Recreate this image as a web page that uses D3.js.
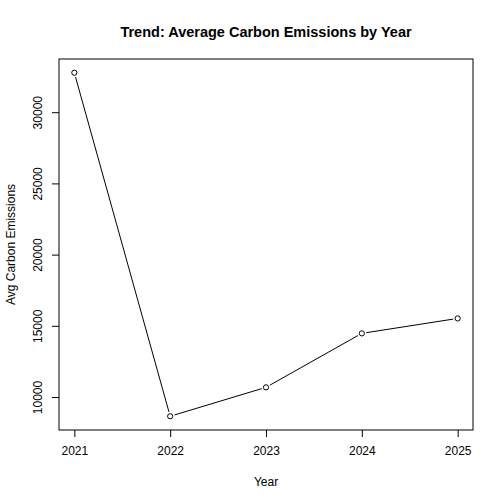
<!DOCTYPE html>
<html><head><meta charset="utf-8">
<script src="https://cdn.jsdelivr.net/npm/d3@7"></script>
<style>body{margin:0;background:#fff}svg{display:block}text{font-family:"Liberation Sans",Arial,sans-serif;fill:#000}</style>
</head><body>
<svg id="c" width="504" height="504"></svg>
<script>
const years = [2021, 2022, 2023, 2024, 2025];
const avgEmissions = [32770, 8650, 10680, 14470, 15520];
const yTicks = [10000, 15000, 20000, 25000, 30000];
const title = "Trend: Average Carbon Emissions by Year";
const xLabel = "Year";
const yLabel = "Avg Carbon Emissions";

const svg = d3.select("#c");
const L = 59, R = 473, T = 59, B = 430;
const x = d3.scaleLinear().domain([2020.84, 2025.16]).range([L, R]);
const yMin = d3.min(avgEmissions), yMax = d3.max(avgEmissions), pad = (yMax - yMin) * 0.04;
const y = d3.scaleLinear().domain([yMin - pad, yMax + pad]).range([B, T]);

svg.append("rect").attr("x", L).attr("y", T).attr("width", R - L).attr("height", B - T)
  .attr("fill", "none").attr("stroke", "#000").attr("stroke-width", 1);

const xAxis = svg.append("g").attr("transform", `translate(0,${B})`)
  .call(d3.axisBottom(x).tickValues(years).tickFormat(d3.format("d")).tickSize(7).tickPadding(9));
xAxis.select(".domain").remove();
xAxis.selectAll("text").attr("font-size", 12).attr("font-family", "Liberation Sans, Arial, sans-serif");

const yAxis = svg.append("g").attr("transform", `translate(${L},0)`)
  .call(d3.axisLeft(y).tickValues(yTicks).tickFormat(d3.format("d")).tickSize(7));
yAxis.select(".domain").remove();
yAxis.selectAll(".tick text").attr("font-size", 12).attr("font-family", "Liberation Sans, Arial, sans-serif")
  .attr("text-anchor", "middle").attr("x", null).attr("dy", "0")
  .attr("transform", "translate(-17,0) rotate(-90)");

const pts = years.map((yr, i) => [x(yr), y(avgEmissions[i])]);
const gap = 4.5;
const segs = [];
for (let i = 0; i < pts.length - 1; i++) {
  const [x1, y1] = pts[i], [x2, y2] = pts[i + 1];
  const dx = x2 - x1, dy = y2 - y1, len = Math.hypot(dx, dy);
  const ux = dx / len, uy = dy / len;
  segs.push([x1 + ux * gap, y1 + uy * gap, x2 - ux * gap, y2 - uy * gap]);
}
svg.append("g").selectAll("line").data(segs).join("line")
  .attr("x1", d => d[0]).attr("y1", d => d[1]).attr("x2", d => d[2]).attr("y2", d => d[3])
  .attr("stroke", "#000").attr("stroke-width", 1);
svg.append("g").selectAll("circle").data(pts).join("circle")
  .attr("cx", d => d[0]).attr("cy", d => d[1]).attr("r", 2.6)
  .attr("fill", "none").attr("stroke", "#000").attr("stroke-width", 1);

svg.append("text").attr("x", (L + R) / 2).attr("y", 37).attr("text-anchor", "middle")
  .attr("font-size", 14.5).attr("font-weight", "bold").text(title);
svg.append("text").attr("x", (L + R) / 2).attr("y", 486).attr("text-anchor", "middle")
  .attr("font-size", 12).text(xLabel);
svg.append("text").attr("transform", `translate(14.5,${(T + B) / 2}) rotate(-90)`).attr("text-anchor", "middle")
  .attr("font-size", 12).text(yLabel);
</script>
</body></html>
